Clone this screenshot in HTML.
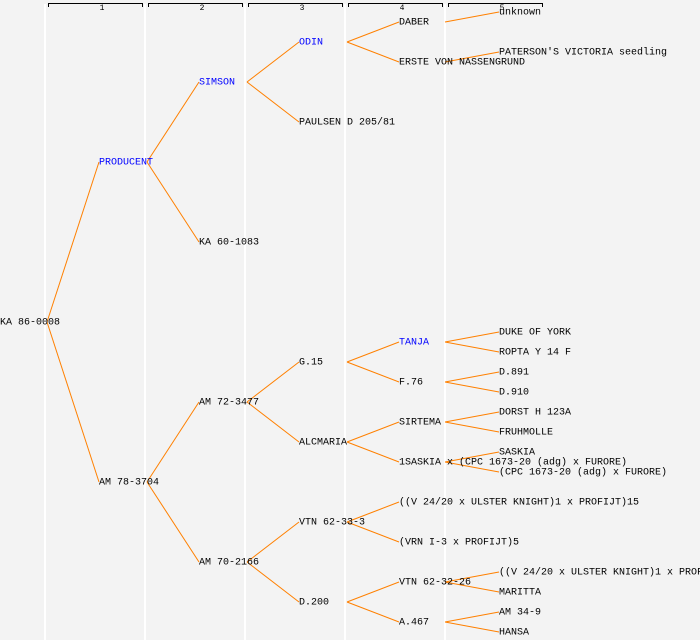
<!DOCTYPE html>
<html><head><meta charset="utf-8"><style>
html,body{margin:0;padding:0;background:#f3f3f3;}
svg{display:block;}
text{font-family:"Liberation Mono",monospace;font-size:10px;dominant-baseline:middle;fill:#000;}
.b{fill:#0000ff;}
.h{font-size:8px;text-anchor:middle;}
line.c{stroke:#ff8000;stroke-width:1;}
</style></head><body>
<svg width="700" height="640" xmlns="http://www.w3.org/2000/svg">
<g stroke="#ffffff" stroke-width="2">
<line x1="45" y1="4" x2="45" y2="640"/><line x1="145" y1="4" x2="145" y2="640"/><line x1="245" y1="4" x2="245" y2="640"/><line x1="345" y1="4" x2="345" y2="640"/><line x1="445" y1="4" x2="445" y2="640"/>
</g>
<g stroke="#000" fill="none" stroke-width="1">
<path d="M48.5 7V3.5H142.5V7"/><path d="M148.5 7V3.5H242.5V7"/><path d="M248.5 7V3.5H342.5V7"/><path d="M348.5 7V3.5H442.5V7"/><path d="M448.5 7V3.5H542.5V7"/>
</g>
<text class="h" x="102" y="8">1</text><text class="h" x="202" y="8">2</text><text class="h" x="302" y="8">3</text><text class="h" x="402" y="8">4</text><text class="h" x="502" y="8">5</text>
<g>
<line class="c" x1="47" y1="322" x2="99" y2="162"/><line class="c" x1="47" y1="322" x2="99" y2="482"/>
<line class="c" x1="147" y1="162" x2="199" y2="82"/><line class="c" x1="147" y1="162" x2="199" y2="242"/>
<line class="c" x1="147" y1="482" x2="199" y2="402"/><line class="c" x1="147" y1="482" x2="199" y2="562"/>
<line class="c" x1="247" y1="82" x2="299" y2="42"/><line class="c" x1="247" y1="82" x2="299" y2="122"/>
<line class="c" x1="247" y1="402" x2="299" y2="362"/><line class="c" x1="247" y1="402" x2="299" y2="442"/>
<line class="c" x1="247" y1="562" x2="299" y2="522"/><line class="c" x1="247" y1="562" x2="299" y2="602"/>
<line class="c" x1="347" y1="42" x2="399" y2="22"/><line class="c" x1="347" y1="42" x2="399" y2="62"/>
<line class="c" x1="347" y1="362" x2="399" y2="342"/><line class="c" x1="347" y1="362" x2="399" y2="382"/>
<line class="c" x1="347" y1="442" x2="399" y2="422"/><line class="c" x1="347" y1="442" x2="399" y2="462"/>
<line class="c" x1="347" y1="522" x2="399" y2="502"/><line class="c" x1="347" y1="522" x2="399" y2="542"/>
<line class="c" x1="347" y1="602" x2="399" y2="582"/><line class="c" x1="347" y1="602" x2="399" y2="622"/>
<line class="c" x1="445" y1="22" x2="499" y2="12"/><line class="c" x1="445" y1="62" x2="499" y2="52"/>
<line class="c" x1="445" y1="342" x2="499" y2="332"/><line class="c" x1="445" y1="342" x2="499" y2="352"/>
<line class="c" x1="445" y1="382" x2="499" y2="372"/><line class="c" x1="445" y1="382" x2="499" y2="392"/>
<line class="c" x1="445" y1="422" x2="499" y2="412"/><line class="c" x1="445" y1="422" x2="499" y2="432"/>
<line class="c" x1="445" y1="462" x2="499" y2="452"/><line class="c" x1="445" y1="462" x2="499" y2="472"/>
<line class="c" x1="445" y1="582" x2="499" y2="572"/><line class="c" x1="445" y1="582" x2="499" y2="592"/>
<line class="c" x1="445" y1="622" x2="499" y2="612"/><line class="c" x1="445" y1="622" x2="499" y2="632"/>
</g>
<text x="0" y="322">KA 86-0008</text>
<text class="b" x="99" y="162">PRODUCENT</text><text x="99" y="482">AM 78-3704</text>
<text class="b" x="199" y="82">SIMSON</text><text x="199" y="242">KA 60-1083</text><text x="199" y="402">AM 72-3477</text><text x="199" y="562">AM 70-2166</text>
<text class="b" x="299" y="42">ODIN</text><text x="299" y="122">PAULSEN D 205/81</text><text x="299" y="362">G.15</text><text x="299" y="442">ALCMARIA</text><text x="299" y="522">VTN 62-33-3</text><text x="299" y="602">D.200</text>
<text x="399" y="22">DABER</text><text x="399" y="62">ERSTE VON NASSENGRUND</text><text class="b" x="399" y="342">TANJA</text><text x="399" y="382">F.76</text><text x="399" y="422">SIRTEMA</text><text x="399" y="462">1SASKIA x (CPC 1673-20 (adg) x FURORE)</text><text x="399" y="502">((V 24/20 x ULSTER KNIGHT)1 x PROFIJT)15</text><text x="399" y="542">(VRN I-3 x PROFIJT)5</text><text x="399" y="582">VTN 62-32-26</text><text x="399" y="622">A.467</text>
<text x="499" y="12">unknown</text><text x="499" y="52">PATERSON'S VICTORIA seedling</text><text x="499" y="332">DUKE OF YORK</text><text x="499" y="352">ROPTA Y 14 F</text><text x="499" y="372">D.891</text><text x="499" y="392">D.910</text><text x="499" y="412">DORST H 123A</text><text x="499" y="432">FRUHMOLLE</text><text x="499" y="452">SASKIA</text><text x="499" y="472">(CPC 1673-20 (adg) x FURORE)</text><text x="499" y="572">((V 24/20 x ULSTER KNIGHT)1 x PROFIJT)15</text><text x="499" y="592">MARITTA</text><text x="499" y="612">AM 34-9</text><text x="499" y="632">HANSA</text>
</svg>
</body></html>
